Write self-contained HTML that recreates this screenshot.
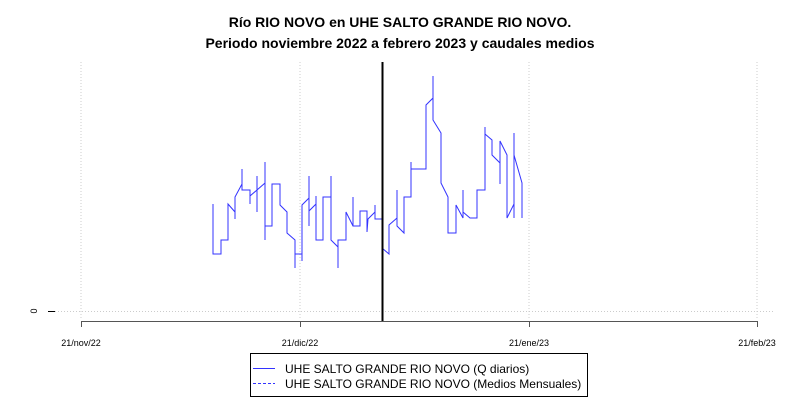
<!DOCTYPE html>
<html><head><style>body{margin:0;background:#fff}svg{display:block}</style></head><body>
<svg width="800" height="400" xmlns="http://www.w3.org/2000/svg" font-family="Liberation Sans, sans-serif">
<rect width="800" height="400" fill="#fff"/>
<text x="400" y="27" text-anchor="middle" font-size="14" font-weight="bold">Río RIO NOVO en UHE SALTO GRANDE RIO NOVO.</text>
<text x="400" y="48" text-anchor="middle" font-size="14" font-weight="bold">Periodo noviembre 2022 a febrero 2023 y caudales medios</text>
<g stroke="#ccc" stroke-dasharray="1,2" stroke-width="1">
<line x1="81" y1="62" x2="81" y2="320"/><line x1="300" y1="62" x2="300" y2="320"/>
<line x1="529" y1="62" x2="529" y2="320"/><line x1="757" y1="62" x2="757" y2="320"/>
<line x1="55" y1="311.5" x2="775" y2="311.5"/>
</g>
<line x1="48" y1="311.5" x2="55" y2="311.5" stroke="#000"/>
<text transform="translate(37,311) rotate(-90)" text-anchor="middle" font-size="9">0</text>
<g stroke="#555" fill="none">
<line x1="81" y1="321.5" x2="757" y2="321.5"/>
<line x1="81.5" y1="321" x2="81.5" y2="327"/><line x1="300.5" y1="321" x2="300.5" y2="327"/>
<line x1="529.5" y1="321" x2="529.5" y2="327"/><line x1="757.5" y1="321" x2="757.5" y2="327"/>
</g>
<g font-size="9" text-anchor="middle">
<text x="81" y="346">21/nov/22</text><text x="300" y="346">21/dic/22</text>
<text x="529" y="346">21/ene/23</text><text x="757" y="346">21/feb/23</text>
</g>
<polyline fill="none" stroke="#3333ff" stroke-width="1" points="213,204 213,254 221,254 221,240 228,240 228,204 235,212 235,219 235,197 242,184 242,169 242,190 250,190 250,204 250,196 257,190 257,176 257,212 257,190 265,183 265,162 265,240 265,226 272,226 272,184 280,184 280,205 287,212 287,233 295,240 295,268 295,254 302,254 302,261 302,205 309,198 309,176 309,226 309,211 316,204 316,196 316,240 323,240 323,197 331,197 331,176 331,240 338,247 338,268 338,240 346,240 346,212 353,226 353,197 353,226 360,226 360,211 367,211 367,232 368,219 375,212 375,205 375,219 382,219 382,248 389,254 389,225 397,218 397,190 397,226 404,233 404,197 411,197 411,162 411,169 426,169 426,105 433,98 433,76 433,120 441,133 441,183 448,197 448,233 456,233 456,218 456,205 463,218 463,190 463,212 470,218 477,218 477,190 485,190 485,127 485,134 492,140 492,155 500,163 500,184 500,141 507,155 507,218 514,204 514,133 514,218 514,155 522,183 522,218"/>
<line x1="382.5" y1="62" x2="382.5" y2="321" stroke="#000" stroke-width="2"/>
<rect x="250.5" y="353.5" width="337" height="43" fill="#fff" stroke="#000"/>
<line x1="253" y1="368.5" x2="275" y2="368.5" stroke="#3333ff"/>
<line x1="253" y1="383.5" x2="275" y2="383.5" stroke="#3333ff" stroke-dasharray="3,2"/>
<text x="285" y="373" font-size="12">UHE SALTO GRANDE RIO NOVO (Q diarios)</text>
<text x="285" y="388" font-size="12">UHE SALTO GRANDE RIO NOVO (Medios Mensuales)</text>
</svg>
</body></html>
